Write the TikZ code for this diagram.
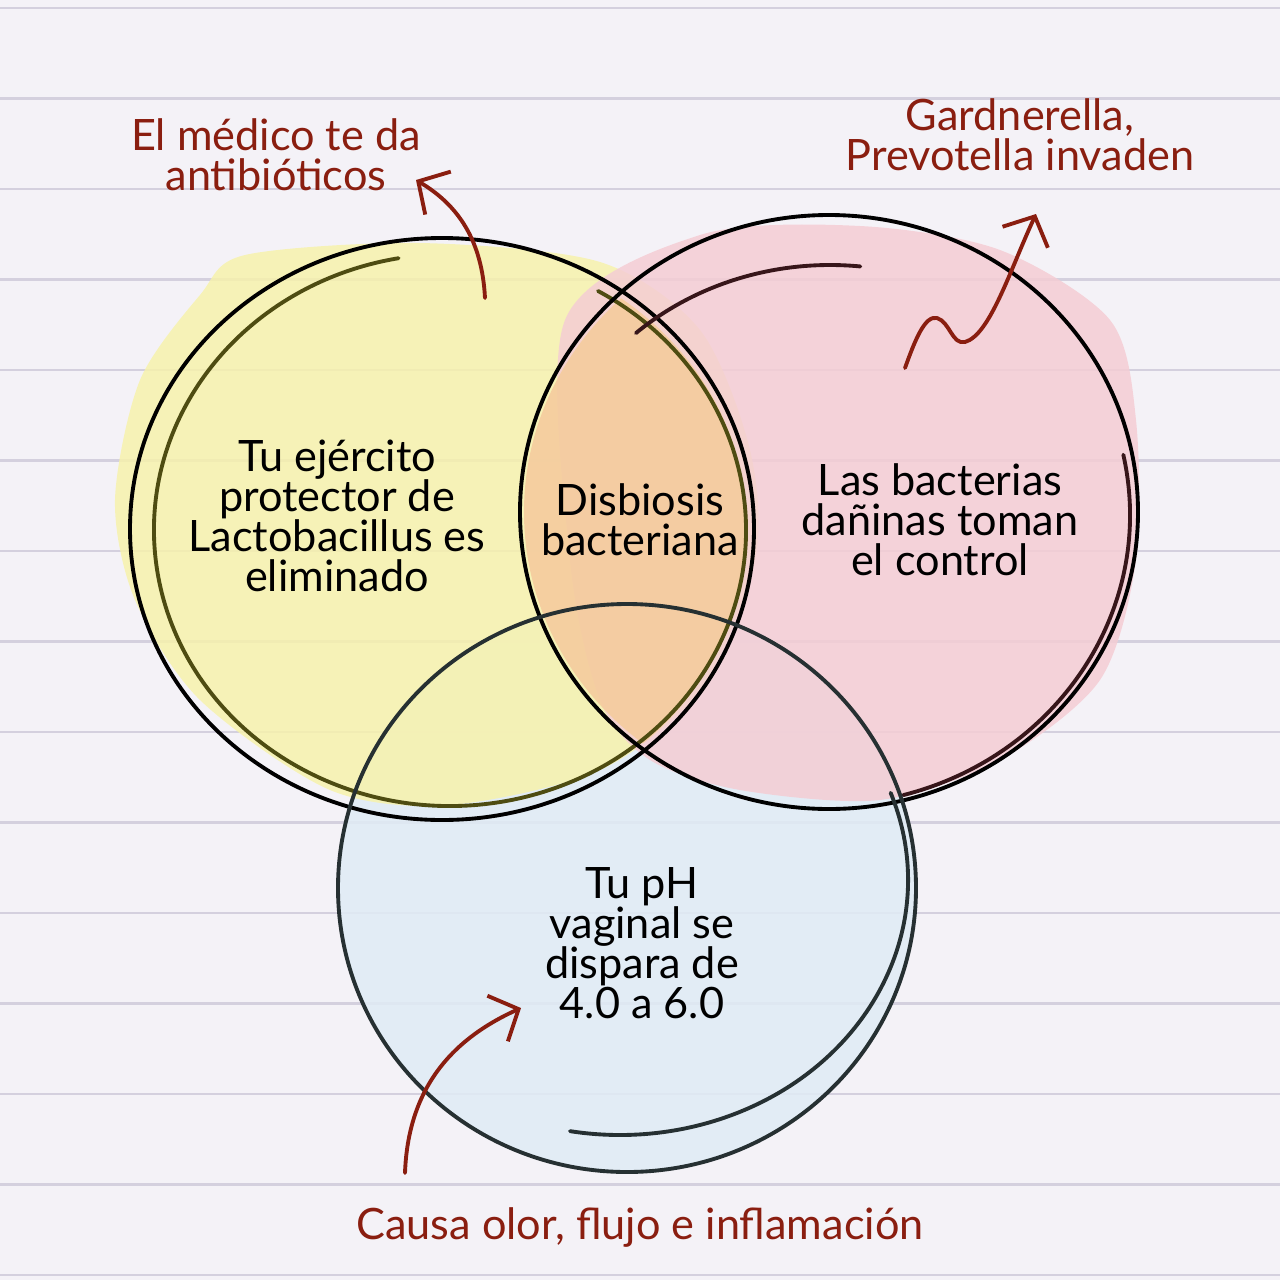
\documentclass[tikz,border=0pt]{standalone}
\usepackage{fontspec}
\setmainfont{Lato}
\usetikzlibrary{arrows.meta}

\definecolor{paper}{RGB}{244,242,247}
\definecolor{ruling}{RGB}{212,208,222}
\definecolor{ink}{RGB}{138,30,16}
\definecolor{yelpaint}{RGB}{247,242,172}
\definecolor{redpaint}{RGB}{244,205,212}
\definecolor{blupaint}{RGB}{224,236,245}
\definecolor{orgpaint}{RGB}{245,204,158}
\definecolor{yelline}{RGB}{78,76,18}
\definecolor{redline}{RGB}{55,22,26}
\definecolor{bluline}{RGB}{38,48,50}

\begin{document}
\begin{tikzpicture}[x=0.1mm, y=-0.1mm,
    ring/.style={line width=1.1pt, line cap=round},
    rulerow/.style={ruling, line width=0.8pt},
    incirc/.style={align=center, text=black, font=\fontsize{12.3}{11.4}\selectfont},
    capt/.style={align=center, text=ink, font=\fontsize{12.3}{11.4}\selectfont},
    hand/.style={ink, line width=1.1pt, line cap=round, line join=round,
      -{Straight Barb[length=2.3mm, width=5mm, line width=1.1pt]}}]
  \useasboundingbox (0,0) rectangle (1280,1280);
  \fill[paper] (0,0) rectangle (1280,1280);
  \foreach \k in {0,...,14}
    \draw[rulerow] (0,{8+90.5*\k}) -- (1280,{8+90.5*\k});

  % paint
  \fill[blupaint, opacity=.85] (627,888) ellipse [x radius=289, y radius=284];
  \fill[yelpaint, opacity=.85] plot[smooth cycle] coordinates {(245,255) (420,243) (600,262)
    (700,330) (750,450) (755,560) (700,690) (600,770) (450,805) (330,790) (200,700)
    (135,600) (115,500) (140,380) (200,295)};
  \fill[redpaint, opacity=.85] plot[smooth cycle] coordinates {(565,320) (700,235) (860,226)
    (1000,250) (1110,320) (1136,420) (1136,560) (1100,680) (1000,760) (880,800)
    (740,790) (650,760) (600,700) (570,560)};
  \begin{scope}
    \clip (442,529) ellipse [x radius=305, y radius=285];
    \fill[orgpaint, opacity=.9] (829,512) ellipse [x radius=305, y radius=292];
  \end{scope}

  % circles
  \draw[ring, black] (442,529) ellipse [x radius=312, y radius=291];
  \draw[ring, yelline] (450,530) ++(300:296 and 276)
    arc [start angle=300, end angle=620, x radius=296, y radius=276];
  \draw[ring, black] (829,512) ellipse [x radius=309, y radius=297];
  \draw[ring, redline] (830,530) ++(228:290 and 265)
    arc [start angle=228, end angle=276, x radius=290, y radius=265];
  \draw[ring, redline] (824,515) ++(-12:306 and 290)
    arc [start angle=-12, end angle=75, x radius=306, y radius=290];
  \draw[ring, bluline] (627,888) ellipse [x radius=289, y radius=284];
  \draw[ring, bluline] (620,880) ++(-20:288 and 255)
    arc [start angle=-20, end angle=100, x radius=288, y radius=255];

  % texts
  \node[incirc] (yeltxt) at (337,516) {Tu ejército\\protector de\\Lactobacillus es\\eliminado};
  \node[incirc] (lenstxt) at (640,520) {Disbiosis\\bacteriana};
  \node[incirc] (redtxt) at (940,520) {Las bacterias\\dañinas toman\\el control};
  \node[incirc] (blutxt) at (642,943) {Tu pH\\vaginal se\\dispara de\\4.0 a 6.0};

  \node[capt] (medico) at (276,155) {El médico te da\\antibióticos};
  \node[capt] (gard) at (1020,135) {Gardnerella,\\Prevotella invaden};
  \node[capt] (causa) at (640,1228) {Causa olor, flujo e inflamación};

  % arrows
  \coordinate (a1) at (485,298);
  \coordinate (a1tip) at (416,180);
  \coordinate (a2) at (905,368);
  \coordinate (a2tip) at (1036,214);
  \coordinate (a3) at (405,1173);
  \coordinate (a3tip) at (521,1008);
  \draw[hand] (a1) .. controls (482,240) and (458,205) .. (a1tip);
  \draw[hand] (a2) .. controls (915,340) and (925,315) .. (937,318)
    .. controls (950,322) and (952,345) .. (965,342)
    .. controls (990,335) and (1010,270) .. (a2tip);
  \draw[hand] (a3) .. controls (408,1090) and (450,1040) .. (a3tip);
\end{tikzpicture}
\end{document}
